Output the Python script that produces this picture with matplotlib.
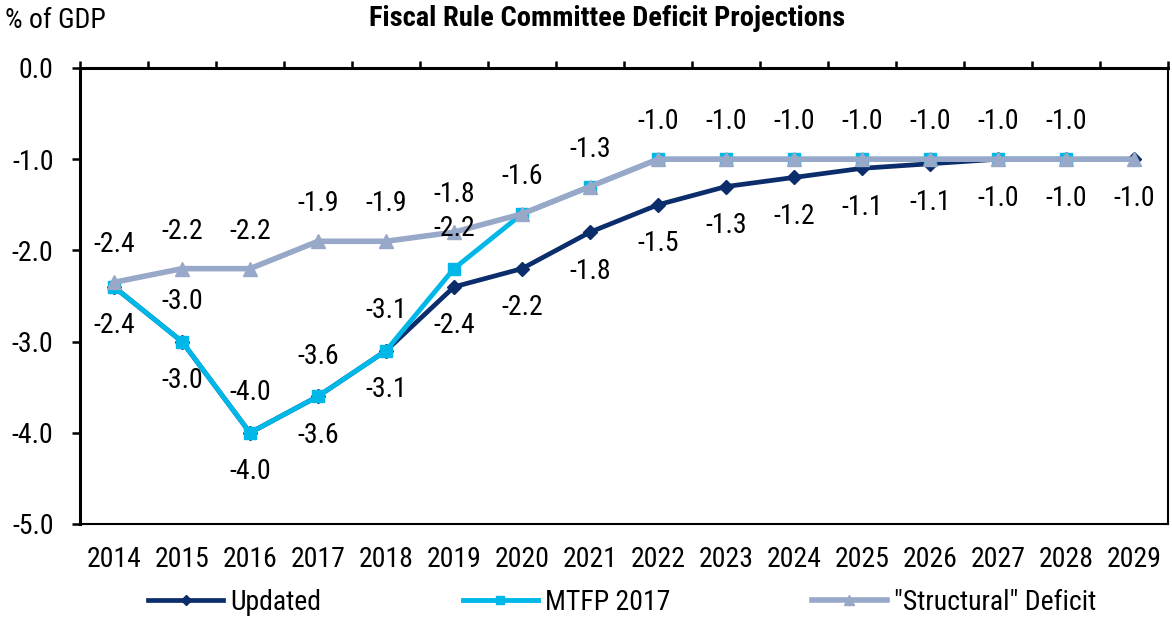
import numpy as np
import matplotlib
matplotlib.use("Agg")
import matplotlib.pyplot as plt
from matplotlib import font_manager as fm

years = [str(y) for y in range(2014, 2030)]
updated = [-2.4, -3.0, -4.0, -3.6, -3.1, -2.4, -2.2, -1.8, -1.5, -1.3, -1.2, -1.1, -1.05, -1.0, -1.0, -1.0]
mtfp = [-2.4, -3.0, -4.0, -3.6, -3.1, -2.2, -1.6, -1.3, -1.0, -1.0, -1.0, -1.0, -1.0, -1.0, -1.0, np.nan]
structural = [-2.35, -2.2, -2.2, -1.9, -1.9, -1.8, -1.6, -1.3, -1.0, -1.0, -1.0, -1.0, -1.0, -1.0, -1.0, -1.0]
# which points carry data labels
updated_lab = list(range(16))
mtfp_lab = [1, 2, 3, 4, 5]
structural_lab = list(range(15))
yticks = [0.0, -1.0, -2.0, -3.0, -4.0, -5.0]

names = {f.name for f in fm.fontManager.ttflist}
cands = ['Liberation Sans Narrow', 'Arial Narrow', 'Roboto Condensed', 'Archivo Narrow',
         'PT Sans Narrow', 'Pragati Narrow', 'Open Sans Condensed', 'Liberation Sans']
fam = next((c for c in cands if c in names), 'DejaVu Sans')
plt.rcParams['font.family'] = [fam, 'DejaVu Sans']

c_upd = '#0B2D6B'
c_mtfp = '#00B8E8'
c_str = '#98A8C8'

fig = plt.figure(figsize=(11.72, 6.2), dpi=100)
ax = fig.add_axes([80/1172, 1-524/620, 1088/1172, 456/620])
x = np.arange(len(years))

l1, = ax.plot(x, updated, color=c_upd, lw=3.4, marker='D', ms=7.5, zorder=3, label='Updated')
l2, = ax.plot(x, mtfp, color=c_mtfp, lw=3.5, marker='s', ms=8.5, zorder=4, label='MTFP 2017')
l3, = ax.plot(x, structural, color=c_str, lw=4.0, marker='^', ms=10, zorder=5, label='"Structural" Deficit')

fs = 20
for i in updated_lab:
    ax.annotate(f"{updated[i]:.1f}", (x[i], updated[i]), xytext=(0, -28), textcoords='offset points',
                ha='center', va='center', fontsize=fs, zorder=6)
for i in mtfp_lab:
    ax.annotate(f"{mtfp[i]:.1f}", (x[i], mtfp[i]), xytext=(0, 29), textcoords='offset points',
                ha='center', va='center', fontsize=fs, zorder=6)
for i in structural_lab:
    ax.annotate(f"{structural[i]:.1f}", (x[i], structural[i]), xytext=(0, 27), textcoords='offset points',
                ha='center', va='center', fontsize=fs, zorder=6)

ax.set_xlim(-0.5, len(years) - 0.5)
ax.set_ylim(-5.0, 0.0)
ax.set_yticks(yticks)
ax.set_yticklabels([f"{v:.1f}" for v in yticks], fontsize=fs)
ax.set_xticks(x)
ax.set_xticklabels(years, fontsize=fs)
ax.set_xticks(np.arange(len(years) + 1) - 0.5, minor=True)
ax.tick_params(axis='x', which='major', length=0, pad=16)
ax.tick_params(axis='x', which='minor', bottom=False, top=True, direction='out', length=5, width=1.8)
ax.tick_params(axis='y', which='major', direction='out', length=6, width=1.8, pad=13)

for s in ['top', 'left']:
    ax.spines[s].set_linewidth(2.2)
for s in ['bottom', 'right']:
    ax.spines[s].set_linewidth(1.5)

fig.text(5/1172, 1-20/620, '% of GDP', fontsize=fs, ha='left', va='center')
fig.text(607/1172, 1-19/620, 'Fiscal Rule Committee Deficit Projections', fontsize=20.5,
         fontweight='bold', ha='center', va='center')

leg = fig.legend(handles=[l1, l2, l3], loc='center', bbox_to_anchor=(622/1172, 1-602/620),
                 ncol=3, frameon=False, fontsize=fs, handlelength=2.7, columnspacing=5.1,
                 handletextpad=0.25, markerscale=0.7, borderpad=0)

fig.savefig('out.png', dpi=100)
